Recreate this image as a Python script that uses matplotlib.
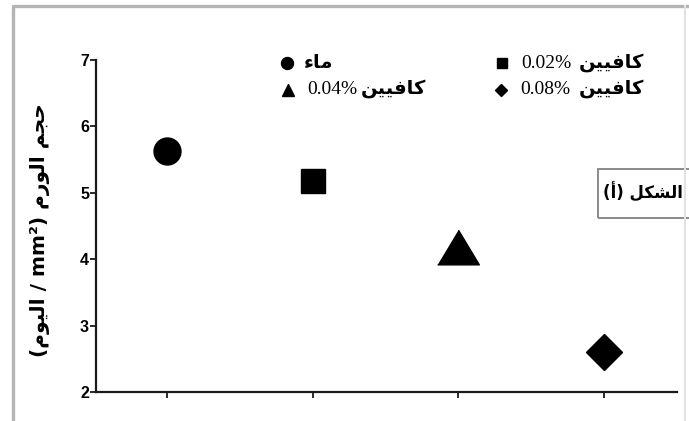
import matplotlib
matplotlib.use("Agg")
import matplotlib.pyplot as plt
from matplotlib.patches import Rectangle
from matplotlib.lines import Line2D

# ---- data ----
groups = [1, 2, 3, 4]
tumor_volume = [5.63, 5.18, 4.19, 2.60]
group_markers = ["o", "s", "^", "D"]
y_ticks = [2, 3, 4, 5, 6, 7]

# ---- minimal Arabic shaping (presentation forms, visual order) ----
FORMS = {
    'ء': ('\uFE80', None, None, None),
    'أ': ('\uFE83', '\uFE84', None, None),
    'ا': ('\uFE8D', '\uFE8E', None, None),
    'ج': ('\uFE9D', '\uFE9E', '\uFE9F', '\uFEA0'),
    'ح': ('\uFEA1', '\uFEA2', '\uFEA3', '\uFEA4'),
    'ر': ('\uFEAD', '\uFEAE', None, None),
    'ش': ('\uFEB5', '\uFEB6', '\uFEB7', '\uFEB8'),
    'ف': ('\uFED1', '\uFED2', '\uFED3', '\uFED4'),
    'ك': ('\uFED9', '\uFEDA', '\uFEDB', '\uFEDC'),
    'ل': ('\uFEDD', '\uFEDE', '\uFEDF', '\uFEE0'),
    'م': ('\uFEE1', '\uFEE2', '\uFEE3', '\uFEE4'),
    'ن': ('\uFEE5', '\uFEE6', '\uFEE7', '\uFEE8'),
    'و': ('\uFEED', '\uFEEE', None, None),
    'ي': ('\uFEF1', '\uFEF2', '\uFEF3', '\uFEF4'),
}


def shape(word):
    out = []
    for i, ch in enumerate(word):
        f = FORMS[ch]
        prev = word[i - 1] if i > 0 else None
        nxt = word[i + 1] if i + 1 < len(word) else None
        jp = prev is not None and FORMS[prev][2] is not None and f[1] is not None
        jn = nxt is not None and f[2] is not None and FORMS[nxt][1] is not None
        if jp and jn:
            g = f[3]
        elif jp:
            g = f[1]
        elif jn:
            g = f[2]
        else:
            g = f[0]
        out.append(g)
    return ''.join(reversed(out))


W, H = 689, 421
fig = plt.figure(figsize=(W / 100, H / 100), dpi=100)
fig.patch.set_facecolor("white")


def fx(x):
    return x / W


def fy(y):
    return 1 - y / H


# outer frame (top/left darker, right edge faint)
fig.add_artist(Line2D([fx(13), fx(13), fx(689)], [fy(425), fy(6), fy(6)],
                      transform=fig.transFigure, color="#b4b4b4", lw=2.4))
fig.add_artist(Line2D([fx(685), fx(685)], [fy(6), fy(425)],
                      transform=fig.transFigure, color="#e2e2e2", lw=1.5))

ax = fig.add_axes([fx(96), fy(392), fx(677) - fx(96), fy(60) - fy(392)])
ax.set_xlim(0.515, 4.50)
ax.set_ylim(2, 7)
for side in ("top", "right"):
    ax.spines[side].set_visible(False)
for side in ("left", "bottom"):
    ax.spines[side].set_linewidth(1.6)
    ax.spines[side].set_color("#1a1a1a")
ax.set_xticks(groups)
ax.set_xticklabels([])
ax.set_yticks(y_ticks)
ax.tick_params(axis="both", direction="out", length=4, width=1.3, color="#1a1a1a")
for lab in ax.get_yticklabels():
    lab.set_fontfamily("Liberation Sans")
    lab.set_fontweight("bold")
    lab.set_fontsize(11.5)
ax.tick_params(axis="y", pad=1)

sizes = [19.4, 17.5, 30.0, 18.3]
tri = [(-1, -0.833), (1, -0.833), (0, 0.833)]
for x, y, m, s in zip(groups, tumor_volume, group_markers, sizes):
    mk = tri if m == "^" else m
    ax.plot([x], [y], marker=mk, markersize=s, color="black", linestyle="none",
            clip_on=False)

# y-axis label
ylabel = "(" + shape("اليوم") + " / mm²) " + shape("الورم") + " " + shape("حجم")
fig.text(fx(40), fy(230), ylabel, rotation=90, ha="center", va="center",
         fontsize=14.5, fontweight="bold", family="DejaVu Sans")

# legend
caffeine = shape("كافيين")
legend_rows = [
    (287, 63, "o", 8.6, None, shape("ماء"), 304),
    (502, 63, "s", 7.0, "0.02%", caffeine, 579),
    (288, 90, "^", 9.0, "0.04%", caffeine, 361),
    (501, 90, "D", 6.5, "0.08%", caffeine, 579),
]
for mx, my, m, ms, pct, word, wx in legend_rows:
    fig.add_artist(Line2D([fx(mx)], [fy(my)], marker=m, markersize=ms,
                          color="black", linestyle="none",
                          transform=fig.transFigure))
    if pct is not None:
        fig.text(fx(mx + 19), fy(my), pct, ha="left", va="center",
                 fontsize=14, family="Liberation Serif")
    fig.text(fx(wx), fy(my - 1), word, ha="left", va="center",
             fontsize=14, fontweight="bold", family="DejaVu Sans")

# panel tag box
fig.patches.append(Rectangle((fx(598), fy(218)), fx(700) - fx(598), fy(169) - fy(218),
                             transform=fig.transFigure, fill=False,
                             edgecolor="#8a8a8a", lw=1.4))
fig.text(fx(603), fy(193), "(أ) " + shape("الشكل"), ha="left", va="center",
         fontsize=12, fontweight="bold", family="DejaVu Sans")

fig.savefig("out.png", dpi=100)
